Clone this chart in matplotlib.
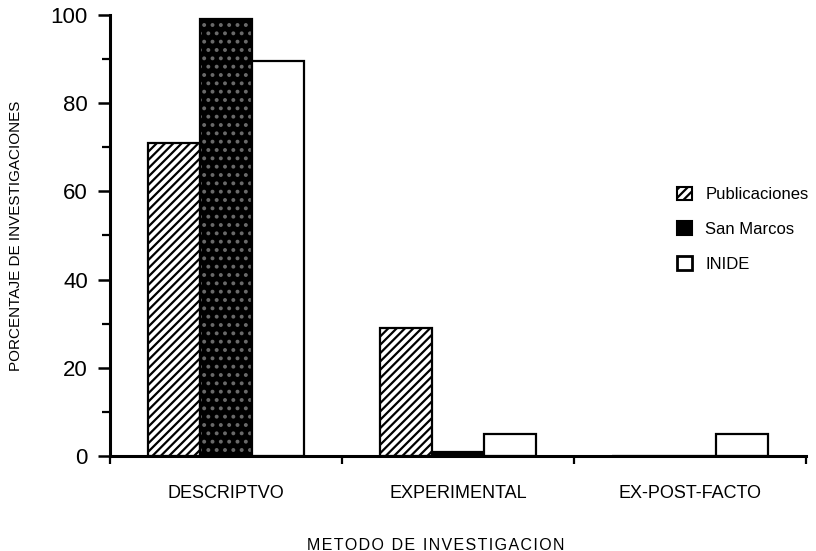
import matplotlib
matplotlib.use("Agg")
import matplotlib.pyplot as plt
import numpy as np
from matplotlib.patches import Patch

categories = ["DESCRIPTVO", "EXPERIMENTAL", "EX-POST-FACTO"]
series_names = ["Publicaciones", "San Marcos", "INIDE"]
publicaciones = [71, 29, 0]
san_marcos = [99, 1, 0]
inide = [89.5, 5, 5]
yticks = [0, 20, 40, 60, 80, 100]

plt.rcParams['font.family'] = ['Liberation Sans', 'DejaVu Sans']
plt.rcParams['hatch.linewidth'] = 1.6

fig = plt.figure(figsize=(8.16, 5.51), dpi=100)
ax = fig.add_axes([0.1348, 0.1724, 0.853, 0.8004])

x = np.arange(len(categories)) + 0.5
w = 0.225
lw = 1.6

# Publicaciones: hatched
ax.bar(x - w, publicaciones, w, facecolor='white', edgecolor='black', hatch='////', linewidth=lw)
# San Marcos: black with faint white dots
sm_vals = np.array(san_marcos)
ax.bar(x, sm_vals, w, facecolor='black', edgecolor='#6a6a6a', hatch='..', linewidth=0)
ax.bar(x, sm_vals, w, fill=False, edgecolor='black', linewidth=lw)
# INIDE: white
ax.bar(x + w, inide, w, facecolor='white', edgecolor='black', linewidth=lw)

ax.set_xlim(0, 3)
ax.set_ylim(0, 100)
ax.set_yticks(yticks)
ax.set_yticks([10, 30, 50, 70, 90], minor=True)
ax.set_xticks([0, 1, 2, 3])
ax.set_xticklabels([])
ax.set_xticks(x, minor=True)
ax.set_xticklabels(categories, minor=True, fontsize=13)
ax.tick_params(axis='x', which='minor', length=0, pad=21)
ax.tick_params(axis='x', which='major', length=6, width=1.6, direction='out')
ax.tick_params(axis='y', which='major', length=9, width=1.8, labelsize=16, pad=7)
ax.tick_params(axis='y', which='minor', length=6, width=1.6)

for s in ['top', 'right']:
    ax.spines[s].set_visible(False)
for s in ['left', 'bottom']:
    ax.spines[s].set_linewidth(2.2)

ax.set_ylabel("PORCENTAJE DE INVESTIGACIONES", fontsize=11, labelpad=20)
xl = "\u200a".join("METODO") + "\u2009 " + "\u200a".join("DE") + "\u2009 " + "\u200a".join("INVESTIGACION")
ax.set_xlabel(xl, fontsize=11.5, family=['Liberation Sans', 'DejaVu Sans'])
ax.xaxis.set_label_coords(0.468, -0.185)

handles = [
    Patch(facecolor='white', edgecolor='black', hatch='////', linewidth=1.5),
    Patch(facecolor='black', edgecolor='black', linewidth=1.5),
    Patch(facecolor='white', edgecolor='black', linewidth=2),
]
leg = ax.legend(handles, series_names, loc='upper left', bbox_to_anchor=(0.805, 0.626),
                frameon=False, fontsize=12, handlelength=0.9, handleheight=0.9,
                labelspacing=1.15, handletextpad=0.8, borderaxespad=0)

fig.savefig("out.png", dpi=100)
